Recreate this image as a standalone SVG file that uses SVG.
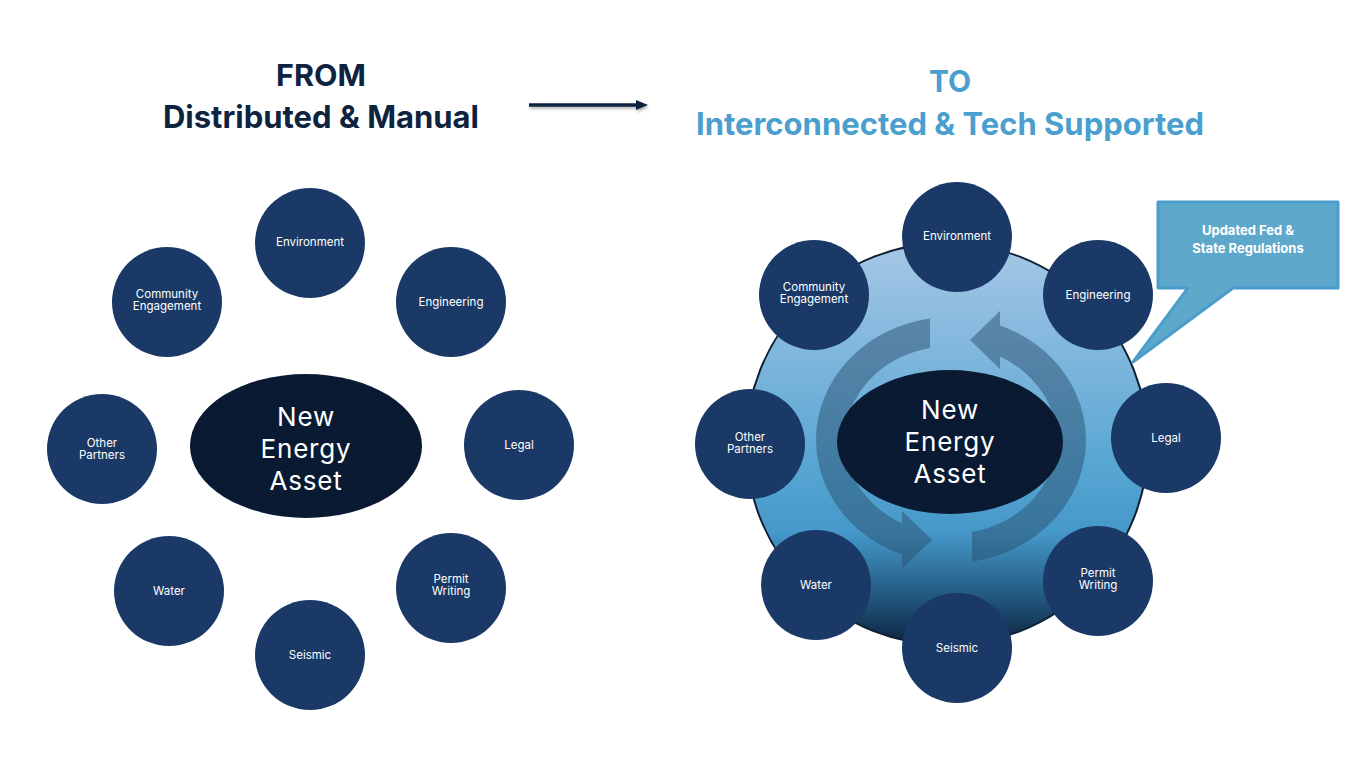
<svg xmlns="http://www.w3.org/2000/svg" width="1372" height="766" viewBox="0 0 1372 766">
<style>
.node{fill:#1a3966}
.hub{fill:#0a1a33}
.lbl{font-family:Inter,"Liberation Sans",sans-serif;font-size:11.5px;fill:#ffffff;text-anchor:middle}
.hubt{font-family:Inter,"Liberation Sans",sans-serif;font-size:26px;fill:#ffffff;text-anchor:middle;letter-spacing:0.8px}
.h1{font-family:Inter,"Liberation Sans",sans-serif;font-weight:bold;text-anchor:middle}
.cyc{fill:#2a5070;opacity:0.5}
</style>
<defs>
<linearGradient id="bg" x1="0" y1="0" x2="0" y2="1">
<stop offset="0" stop-color="#a6c7e6"/>
<stop offset="0.55" stop-color="#58a6d3"/>
<stop offset="0.72" stop-color="#4598c9"/>
<stop offset="0.84" stop-color="#2b6892"/>
<stop offset="1" stop-color="#0c2340"/>
</linearGradient>
<filter id="sh" x="-10%" y="-100%" width="120%" height="300%">
<feDropShadow dx="1" dy="2" stdDeviation="1.5" flood-color="#000" flood-opacity="0.3"/>
</filter>
</defs>
<rect width="1372" height="766" fill="#ffffff"/>

<g id="header">
<text class="h1" x="321" y="86" font-size="30.5" fill="#0e2340">FROM</text>
<text class="h1" x="321" y="128" font-size="31" fill="#0e2340">Distributed &amp; Manual</text>
<text class="h1" x="950" y="92" font-size="30" fill="#4a9fcf">TO</text>
<text class="h1" x="950" y="135" font-size="31" fill="#4a9fcf">Interconnected &amp; Tech Supported</text>
</g>

<g id="connectors">
<g filter="url(#sh)">
<line x1="529" y1="105" x2="638" y2="105" stroke="#0e2340" stroke-width="3.5"/>
<polygon points="636,100 648,105 636,110" fill="#0e2340"/>
</g>
</g>

<!-- Left diagram -->
<g id="left-hub"><ellipse class="hub" cx="306" cy="446" rx="116" ry="72"/>
<text class="hubt" x="306" y="426">New</text><text class="hubt" x="306" y="458">Energy</text><text class="hubt" x="306" y="490">Asset</text></g>
<g id="l-environment"><circle class="node" cx="310" cy="243" r="55"/><text class="lbl" x="310" y="246">Environment</text></g>
<g id="l-community"><circle class="node" cx="167" cy="302" r="55"/><text class="lbl" x="167" y="297.5">Community</text><text class="lbl" x="167" y="310">Engagement</text></g>
<g id="l-engineering"><circle class="node" cx="451" cy="302" r="55"/><text class="lbl" x="451" y="306">Engineering</text></g>
<g id="l-other"><circle class="node" cx="102" cy="449" r="55"/><text class="lbl" x="102" y="446.5">Other</text><text class="lbl" x="102" y="459">Partners</text></g>
<g id="l-legal"><circle class="node" cx="519" cy="445" r="55"/><text class="lbl" x="519" y="449">Legal</text></g>
<g id="l-water"><circle class="node" cx="169" cy="591" r="55"/><text class="lbl" x="169" y="595">Water</text></g>
<g id="l-permit"><circle class="node" cx="451" cy="588" r="55"/><text class="lbl" x="451" y="582.5">Permit</text><text class="lbl" x="451" y="595">Writing</text></g>
<g id="l-seismic"><circle class="node" cx="310" cy="655" r="55"/><text class="lbl" x="310" y="659">Seismic</text></g>

<!-- Right diagram -->
<g id="r-platform"><circle cx="947" cy="444" r="201" fill="url(#bg)" stroke="#0f2035" stroke-width="2"/></g>
<g id="callout">
<path d="M1158,202 H1338 V288 H1233 L1133,362 L1188,288 H1158 Z" fill="#5ea8cc" stroke="#4b9dcb" stroke-width="3" stroke-linejoin="round"/>
<text class="h1" x="1248" y="235" font-size="13" fill="#ffffff">Updated Fed &amp;</text>
<text class="h1" x="1248" y="253" font-size="13" fill="#ffffff">State Regulations</text>
</g>
<g id="cycle-arrows">
<path class="cyc" d="M930,318.5 A135,123 0 0 0 902,554.6 L902,568 L932,540 L902,511 L902,523.4 A106,94 0 0 1 930,347.9 Z"/>
<path class="cyc" d="M972,561.5 A135,123 0 0 0 1000,325.4 L1000,311 L970,340 L1000,369 L1000,356.6 A106,94 0 0 1 972,532 Z"/>
</g>
<g id="r-hub"><ellipse class="hub" cx="950" cy="442" rx="113" ry="72"/>
<text class="hubt" x="950" y="419">New</text><text class="hubt" x="950" y="451">Energy</text><text class="hubt" x="950" y="483">Asset</text></g>
<g id="r-environment"><circle class="node" cx="957" cy="237" r="55"/><text class="lbl" x="957" y="240">Environment</text></g>
<g id="r-community"><circle class="node" cx="814" cy="295" r="55"/><text class="lbl" x="814" y="290.5">Community</text><text class="lbl" x="814" y="303">Engagement</text></g>
<g id="r-engineering"><circle class="node" cx="1098" cy="295" r="55"/><text class="lbl" x="1098" y="299">Engineering</text></g>
<g id="r-other"><circle class="node" cx="750" cy="444" r="55"/><text class="lbl" x="750" y="440.5">Other</text><text class="lbl" x="750" y="453">Partners</text></g>
<g id="r-legal"><circle class="node" cx="1166" cy="438" r="55"/><text class="lbl" x="1166" y="442">Legal</text></g>
<g id="r-water"><circle class="node" cx="816" cy="585" r="55"/><text class="lbl" x="816" y="589">Water</text></g>
<g id="r-permit"><circle class="node" cx="1098" cy="581" r="55"/><text class="lbl" x="1098" y="576.5">Permit</text><text class="lbl" x="1098" y="589">Writing</text></g>
<g id="r-seismic"><circle class="node" cx="957" cy="648" r="55"/><text class="lbl" x="957" y="652">Seismic</text></g>
</svg>
